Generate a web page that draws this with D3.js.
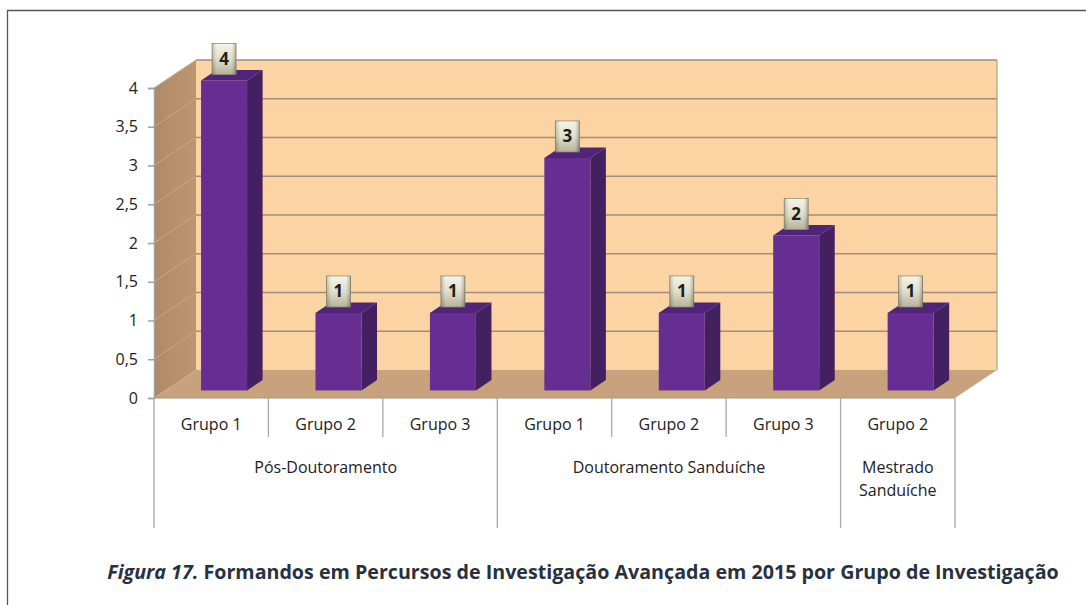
<!DOCTYPE html>
<html>
<head>
<meta charset="utf-8">
<script src="https://cdn.jsdelivr.net/npm/d3@7"></script>
<style>
  body { margin: 0; background: #fff; }
  svg { display: block; }
</style>
</head>
<body>
<svg id="chart" width="1086" height="605"></svg>
<script>
// chart data
const groups = ["Pós-Doutoramento", "Doutoramento Sanduíche", "Mestrado Sanduíche"];
const categories = ["Grupo 1", "Grupo 2", "Grupo 3", "Grupo 1", "Grupo 2", "Grupo 3", "Grupo 2"];
const groupIndex = [0, 0, 0, 1, 1, 1, 2];
const values = [4, 1, 1, 3, 1, 2, 1];
const yTicks = [0, 0.5, 1, 1.5, 2, 2.5, 3, 3.5, 4];
const yTickLabels = ["0", "0,5", "1", "1,5", "2", "2,5", "3", "3,5", "4"];
const captionItalic = "Figura 17.";
const captionText = " Formandos em Percursos de Investigação Avançada em 2015 por Grupo de Investigação";

const svg = d3.select("#chart");
const font = "'Open Sans', 'Noto Sans', sans-serif";

// frame (top + left)
svg.append("path")
  .attr("d", "M7.5,605 L7.5,10.5 L1086,10.5")
  .attr("fill", "none").attr("stroke", "#555").attr("stroke-width", 1.3);

const plotL = 154, plotR = 955, plotB = 398, plotT = 88;
const depth = { dx: 42, dy: -28 };

const y = d3.scaleLinear().domain([0, 4]).range([plotB, plotT]);
const x = d3.scaleBand().domain(d3.range(categories.length)).range([plotL, plotR]);

const defs = svg.append("defs");
const gWall = defs.append("linearGradient").attr("id", "sideWall").attr("x1", 0).attr("x2", 1);
gWall.append("stop").attr("offset", 0).attr("stop-color", "#b08a66");
gWall.append("stop").attr("offset", 1).attr("stop-color", "#bd9671");
const gBtn = defs.append("linearGradient").attr("id", "btn").attr("x1", 0).attr("x2", 0).attr("y1", 0).attr("y2", 1);
gBtn.append("stop").attr("offset", 0).attr("stop-color", "#f4f2e4");
gBtn.append("stop").attr("offset", 0.5).attr("stop-color", "#dcd9c2");
gBtn.append("stop").attr("offset", 1).attr("stop-color", "#a8a58a");
const gBtnH = defs.append("linearGradient").attr("id", "btnH").attr("x1", 0).attr("x2", 1);
gBtnH.append("stop").attr("offset", 0).attr("stop-color", "#000").attr("stop-opacity", 0.18);
gBtnH.append("stop").attr("offset", 0.2).attr("stop-color", "#fff").attr("stop-opacity", 0.15);
gBtnH.append("stop").attr("offset", 0.8).attr("stop-color", "#fff").attr("stop-opacity", 0.15);
gBtnH.append("stop").attr("offset", 1).attr("stop-color", "#000").attr("stop-opacity", 0.25);

const backL = plotL + depth.dx, backR = plotR + depth.dx;

// back wall
svg.append("rect")
  .attr("x", backL).attr("y", y(4) + depth.dy)
  .attr("width", backR - backL).attr("height", y(0) - y(4))
  .attr("fill", "#fcd4a4");
svg.append("line")
  .attr("x1", backR).attr("x2", backR)
  .attr("y1", y(4) + depth.dy).attr("y2", y(0) + depth.dy)
  .attr("stroke", "#b0a090").attr("stroke-width", 1.2);

// side wall
svg.append("path")
  .attr("d", `M${plotL},${y(4)} L${backL},${y(4) + depth.dy} L${backL},${y(0) + depth.dy} L${plotL},${y(0)} Z`)
  .attr("fill", "url(#sideWall)");

// floor
svg.append("path")
  .attr("d", `M${plotL},${y(0)} L${backL},${y(0) + depth.dy} L${backR},${y(0) + depth.dy} L${plotR},${y(0)} Z`)
  .attr("fill", "#c7a27c");

// gridlines on back wall and side wall
yTicks.filter(t => t > 0).forEach(t => {
  svg.append("line")
    .attr("x1", backL).attr("x2", backR)
    .attr("y1", y(t) + depth.dy).attr("y2", y(t) + depth.dy)
    .attr("stroke", "#9f8e7e").attr("stroke-width", 1.6);
  svg.append("line")
    .attr("x1", plotL).attr("x2", backL)
    .attr("y1", y(t)).attr("y2", y(t) + depth.dy)
    .attr("stroke", "#c9a885").attr("stroke-width", 1);
});

// bars
const barW = 46, f0 = 0.27, f1 = 0.64;
const offX0 = depth.dx * f0, offY0 = depth.dy * f0;
const sideX = depth.dx * (f1 - f0), sideY = depth.dy * (f1 - f0);

const bars = svg.append("g");
values.forEach((v, i) => {
  const cx = x(i) + x.bandwidth() / 2 + offX0 + 1.5;
  const x0 = cx - barW / 2, x1 = cx + barW / 2;
  const yb = y(0) + offY0, yt = y(v) + offY0;
  // side
  bars.append("path")
    .attr("d", `M${x1},${yt} L${x1 + sideX},${yt + sideY} L${x1 + sideX},${yb + sideY} L${x1},${yb} Z`)
    .attr("fill", "#43205f");
  // top
  bars.append("path")
    .attr("d", `M${x0},${yt} L${x0 + sideX},${yt + sideY} L${x1 + sideX},${yt + sideY} L${x1},${yt} Z`)
    .attr("fill", "#4f2479");
  // front
  bars.append("rect")
    .attr("x", x0).attr("y", yt).attr("width", barW).attr("height", yb - yt)
    .attr("fill", "#662e92");

  // value label button
  const bw = 24, bh = 31;
  const by = yt - 6 - bh;
  bars.append("rect")
    .attr("x", cx - bw / 2).attr("y", by).attr("width", bw).attr("height", bh)
    .attr("fill", "url(#btn)").attr("stroke", "#8c8970").attr("stroke-width", 0.8);
  bars.append("rect")
    .attr("x", cx - bw / 2).attr("y", by).attr("width", bw).attr("height", bh)
    .attr("fill", "url(#btnH)");
  bars.append("text")
    .attr("x", cx).attr("y", by + bh / 2 + 6)
    .attr("text-anchor", "middle")
    .attr("font-family", font).attr("font-weight", "bold").attr("font-size", 17)
    .attr("fill", "#1c1c1c")
    .text(v);
});

// y axis
const yAxis = svg.append("g")
  .attr("transform", `translate(${plotL},0)`)
  .call(d3.axisLeft(y).tickValues(yTicks).tickSize(6).tickPadding(10)
    .tickFormat((d, i) => yTickLabels[i]));
yAxis.select(".domain").attr("stroke", "#a0a0a0").attr("stroke-width", 1.5);
yAxis.selectAll(".tick line").attr("stroke", "#a0a0a0").attr("stroke-width", 1.5);
yAxis.selectAll(".tick text")
  .attr("font-family", font).attr("font-size", 16).attr("fill", "#222");

// category table
const axisColor = "#a8a8a8";
const table = svg.append("g");
table.append("line")
  .attr("x1", plotL).attr("x2", plotR).attr("y1", plotB).attr("y2", plotB)
  .attr("stroke", "#b59470").attr("stroke-width", 1);

const boundaries = d3.range(categories.length + 1).map(i => i === categories.length ? plotR : x(i));
boundaries.forEach((bx, i) => {
  const major = i === 0 || i === categories.length || groupIndex[i] !== groupIndex[i - 1];
  table.append("line")
    .attr("x1", bx).attr("x2", bx)
    .attr("y1", plotB).attr("y2", major ? 528 : 437)
    .attr("stroke", axisColor).attr("stroke-width", 1.3);
});

categories.forEach((c, i) => {
  table.append("text")
    .attr("x", x(i) + x.bandwidth() / 2).attr("y", 430)
    .attr("text-anchor", "middle")
    .attr("font-family", font).attr("font-size", 16).attr("fill", "#222")
    .text(c);
});

groups.forEach((g, gi) => {
  const idx = groupIndex.map((d, i) => d === gi ? i : -1).filter(i => i >= 0);
  const gx = (x(idx[0]) + x(idx[idx.length - 1]) + x.bandwidth()) / 2;
  const span = idx.length * x.bandwidth();
  const t = table.append("text")
    .attr("x", gx).attr("y", 473)
    .attr("text-anchor", "middle")
    .attr("font-family", font).attr("font-size", 16).attr("fill", "#222");
  if (span < 150) {
    const words = g.split(" ");
    words.forEach((w, k) => t.append("tspan").attr("x", gx).attr("dy", k === 0 ? 0 : 23).text(w));
  } else {
    t.text(g);
  }
});

// caption
const cap = svg.append("text")
  .attr("x", 583).attr("y", 579)
  .attr("text-anchor", "middle")
  .attr("font-family", "'Open Sans', 'Noto Sans', sans-serif")
  .attr("font-weight", "bold").attr("font-size", 19)
  .attr("fill", "#28313f");
cap.append("tspan").attr("font-style", "italic").text(captionItalic);
cap.append("tspan").text(captionText);
const w = cap.node().getComputedTextLength();
const target = 952;
cap.attr("font-size", 19 * Math.min(1.1, target / w));
const w2 = cap.node().getComputedTextLength();
if (Math.abs(w2 - target) > 4) {
  cap.attr("textLength", target).attr("lengthAdjust", "spacingAndGlyphs");
}
</script>
</body>
</html>
